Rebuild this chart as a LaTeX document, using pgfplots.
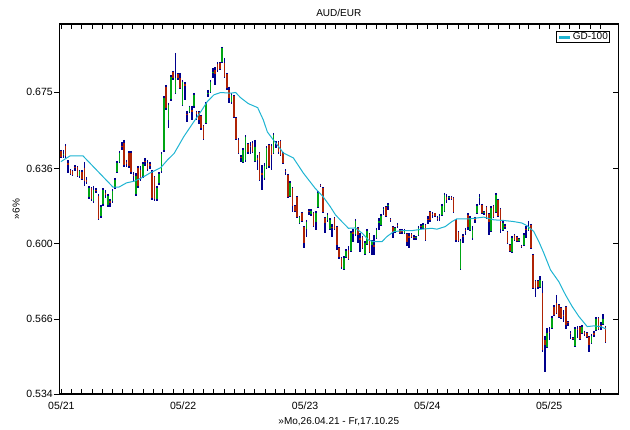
\documentclass[border=0pt]{standalone}
\usepackage{fontspec}
\setmainfont{Liberation Sans}
\usepackage{pgfplots}
\usepackage{pgfplotstable}
\pgfplotsset{compat=1.18}
\definecolor{upg}{RGB}{0,165,20}
\definecolor{dnr}{RGB}{175,35,5}
\definecolor{wick}{RGB}{0,0,140}
\definecolor{maline}{RGB}{30,180,210}

\pgfplotstableread{
x o h l c
4 .6449 .6454 .6414 .6419
11 .6429 .6454 .6414 .6434
18 .6474 .6484 .6414 .6424
25 .6389 .6404 .6339 .6379
32 .6354 .6359 .6330 .6335
39 .6349 .6354 .6325 .6330
46 .6369 .6379 .6349 .6364
53 .6369 .6374 .6320 .6325
60 .6325 .6354 .6315 .6349
67 .6344 .6354 .6305 .6310
74 .6364 .6394 .6276 .6300
81 .6305 .6320 .6286 .6296
88 .6223 .6276 .6213 .6266
95 .6266 .6271 .6203 .6213
102 .6203 .6276 .6194 .6257
109 .6257 .6266 .6242 .6252
116 .6228 .6237 .6113 .6118
123 .6132 .6184 .6122 .6174
130 .6189 .6266 .6179 .6257
137 .6242 .6257 .6218 .6232
144 .6184 .6237 .6174 .6228
151 .6203 .6213 .6174 .6194
158 .6203 .6262 .6194 .6252
165 .6271 .6315 .6262 .6305
172 .6344 .6399 .6339 .6389
179 .6394 .6449 .6389 .6439
186 .6474 .6494 .6454 .6469
193 .6489 .6504 .6369 .6379
200 .6394 .6404 .6369 .6384
207 .6439 .6449 .6364 .6374
214 .6439 .6449 .6335 .6344
221 .6330 .6344 .6300 .6325
228 .6237 .6339 .6228 .6325
235 .6364 .6374 .6266 .6276
242 .6354 .6374 .6300 .6315
249 .6325 .6394 .6315 .6384
256 .6399 .6414 .6374 .6394
263 .6389 .6404 .6349 .6359
270 .6384 .6394 .6359 .6374
277 .6339 .6354 .6208 .6218
284 .6320 .6325 .6203 .6213
291 .6213 .6276 .6203 .6266
298 .6291 .6344 .6281 .6335
305 .6349 .6444 .6339 .6434
312 .6454 .6731 .6444 .6721
319 .6778 .6788 .6658 .6669
326 .6606 .6695 .6565 .6684
333 .6715 .6841 .6705 .6830
340 .6857 .6862 .6814 .6825
347 .6746 .6959 .6741 .6825
354 .6846 .6851 .6814 .6825
361 .6825 .6851 .6767 .6772
368 .6684 .6814 .6679 .6804
375 .6793 .6804 .6709 .6783
382 .6637 .6653 .6596 .6632
389 .6648 .6679 .6643 .6674
396 .6658 .6679 .6606 .6648
403 .6679 .6746 .6669 .6736
410 .6648 .6653 .6606 .6637
417 .6648 .6653 .6586 .6606
424 .6627 .6632 .6555 .6565
431 .6575 .6580 .6504 .6509
438 .6591 .6700 .6586 .6689
445 .6741 .6762 .6726 .6746
452 .6751 .6814 .6746 .6804
459 .6851 .6878 .6825 .6857
466 .6867 .6883 .6788 .6846
473 .6900 .6910 .6857 .6867
480 .6905 .6910 .6867 .6873
487 .6910 .6991 .6905 .6986
494 .6905 .6932 .6825 .6830
501 .6846 .6851 .6762 .6772
508 .6762 .6778 .6695 .6721
515 .6700 .6746 .6689 .6736
522 .6731 .6736 .6617 .6622
529 .6617 .6622 .6504 .6509
536 .6504 .6514 .6434 .6439
543 .6419 .6429 .6394 .6414
550 .6394 .6464 .6389 .6454
557 .6404 .6529 .6394 .6519
564 .6484 .6489 .6434 .6444
571 .6474 .6494 .6434 .6469
578 .6489 .6499 .6439 .6444
585 .6399 .6504 .6394 .6469
592 .6414 .6429 .6354 .6404
599 .6439 .6444 .6300 .6305
606 .6339 .6379 .6257 .6330
613 .6315 .6389 .6305 .6374
620 .6364 .6474 .6359 .6464
627 .6479 .6484 .6364 .6374
634 .6474 .6484 .6354 .6429
641 .6439 .6540 .6434 .6529
648 .6489 .6499 .6464 .6484
655 .6494 .6499 .6434 .6444
662 .6499 .6504 .6424 .6429
669 .6439 .6444 .6384 .6389
676 .6349 .6359 .6330 .6344
683 .6330 .6335 .6218 .6223
690 .6228 .6300 .6223 .6291
697 .6266 .6271 .6151 .6179
704 .6179 .6184 .6151 .6155
711 .6223 .6228 .6122 .6127
718 .6099 .6132 .6094 .6127
725 .6146 .6151 .6104 .6108
732 .6080 .6085 .5981 .6005
739 .6070 .6113 .6033 .6104
746 .6155 .6165 .6137 .6151
753 .6141 .6165 .6132 .6155
760 .6146 .6151 .6080 .6085
767 .6104 .6155 .6065 .6146
774 .6174 .6252 .6170 .6242
781 .6283 .6286 .6271 .6276
788 .6266 .6271 .6146 .6151
795 .6122 .6127 .6051 .6099
802 .6113 .6146 .6104 .6137
809 .6070 .6122 .6065 .6113
816 .6080 .6094 .6033 .6075
823 .6122 .6127 .6065 .6070
830 .6080 .6085 .5972 .5995
837 .5981 .5986 .5931 .5940
844 .5935 .5940 .5885 .5894
851 .5885 .5944 .5880 .5935
858 .5940 .5976 .5935 .5967
865 .5972 .5990 .5925 .5931
872 .5967 .6061 .5963 .6051
879 .6056 .6070 .6009 .6047
886 .6047 .6118 .6037 .6108
893 .6075 .6080 .6005 .6042
900 .6028 .6051 .5963 .6018
907 .6033 .6037 .5976 .5981
914 .5954 .6014 .5949 .6005
921 .6000 .6070 .5995 .6061
928 .6047 .6051 .5958 .5963
935 .5995 .6018 .5949 .6014
942 .5995 .6042 .5949 .5986
949 .6028 .6075 .6023 .6065
956 .6099 .6122 .6065 .6108
963 .6089 .6141 .6085 .6132
970 .6160 .6174 .6137 .6165
977 .6174 .6179 .6127 .6132
984 .6179 .6194 .6160 .6184
991 .6118 .6122 .6104 .6113
998 .6080 .6085 .6028 .6056
1005 .6056 .6080 .6051 .6075
1012 .6089 .6099 .6075 .6085
1019 .6065 .6070 .6047 .6051
1026 .6061 .6070 .6047 .6056
1033 .6051 .6070 .6047 .6065
1040 .6047 .6051 .5990 .6009
1047 .6037 .6051 .5981 .6028
1054 .6047 .6051 .6028 .6033
1061 .6033 .6042 .6018 .6028
1068 .6028 .6037 .6018 .6033
1075 .6042 .6085 .6037 .6075
1082 .6085 .6094 .6070 .6080
1089 .6075 .6099 .6070 .6089
1096 .6089 .6094 .6014 .6018
1103 .6118 .6132 .6094 .6113
1110 .6151 .6155 .6104 .6113
1117 .6141 .6151 .6122 .6137
1124 .6144 .6146 .6127 .6132
1131 .6122 .6132 .6108 .6118
1138 .6127 .6141 .6108 .6132
1145 .6137 .6189 .6132 .6179
1152 .6155 .6242 .6151 .6232
1159 .6223 .6237 .6194 .6208
1166 .6218 .6228 .6208 .6223
1173 .6223 .6228 .6208 .6213
1180 .6218 .6223 .6146 .6151
1187 .6113 .6118 .6009 .6018
1194 .6056 .6061 .6009 .6014
1201 .5885 .6023 .5880 .6014
1208 .6037 .6047 .6005 .6033
1215 .6065 .6075 .6042 .6061
1222 .6137 .6146 .6065 .6080
1229 .6065 .6132 .6061 .6122
1236 .6028 .6085 .6018 .6065
1243 .6118 .6127 .6099 .6113
1250 .6146 .6189 .6141 .6179
1257 .6218 .6237 .6184 .6223
1264 .6184 .6189 .6141 .6146
1271 .6146 .6155 .6137 .6151
1278 .6174 .6179 .6118 .6122
1285 .6141 .6146 .6042 .6104
1292 .6061 .6179 .6056 .6170
1299 .6179 .6184 .6122 .6127
1306 .6151 .6242 .6146 .6232
1313 .6208 .6213 .6127 .6132
1320 .6165 .6170 .6051 .6070
1327 .6065 .6108 .6061 .6099
1334 .6085 .6094 .6070 .6080
1341 .6056 .6061 .6000 .6005
1348 .5995 .6000 .5963 .5967
1355 .5963 .6037 .5958 .6028
1362 .6042 .6047 .6014 .6018
1369 .6033 .6037 .6009 .6014
1376 .6014 .6028 .6009 .6023
1383 .5990 .5995 .5981 .5986
1390 .5995 .6051 .5990 .6042
1397 .6070 .6085 .6028 .6065
1404 .6065 .6108 .6061 .6080
1411 .6089 .6094 .5976 .5981
1418 .5949 .5954 .5793 .5797
1425 .5830 .5834 .5758 .5797
1432 .5830 .5834 .5793 .5802
1439 .5802 .5852 .5797 .5834
1446 .5776 .5830 .5517 .5526
1453 .5569 .5586 .5432 .5547
1460 .5539 .5621 .5535 .5599
1467 .5603 .5625 .5569 .5599
1474 .5621 .5673 .5616 .5665
1481 .5713 .5722 .5673 .5678
1488 .5731 .5767 .5682 .5687
1495 .5722 .5727 .5665 .5669
1502 .5709 .5713 .5660 .5665
1509 .5678 .5700 .5647 .5673
1516 .5713 .5718 .5616 .5634
1523 .5647 .5651 .5629 .5643
1530 .5599 .5608 .5573 .5595
1537 .5577 .5582 .5569 .5573
1544 .5543 .5625 .5539 .5616
1551 .5616 .5629 .5577 .5612
1558 .5625 .5629 .5569 .5573
1565 .5599 .5634 .5595 .5625
1572 .5603 .5608 .5586 .5595
1579 .5599 .5603 .5577 .5582
1586 .5582 .5586 .5517 .5547
1593 .5556 .5595 .5552 .5586
1600 .5599 .5608 .5582 .5590
1607 .5612 .5669 .5608 .5660
1614 .5665 .5669 .5612 .5616
1621 .5634 .5647 .5612 .5629
1628 .5638 .5682 .5634 .5660
1635 .5625 .5629 .5556 .5560
}\ohlc

\pgfplotstableread{
x y
4 .6396
31 .6424
70 .6424
160 .6270
178 .6271
200 .6291
225 .6300
245 .6315
270 .6339
303 .6366
323 .6404
343 .6437
372 .6521
402 .6597
423 .6649
442 .6700
462 .6736
482 .6748
512 .6745
527 .6748
542 .6721
565 .6690
593 .6669
610 .6606
622 .6545
640 .6504
670 .6439
700 .6414
730 .6339
765 .6265
789 .6224
810 .6177
826 .6137
845 .6105
865 .6073
885 .6075
906 .6050
925 .6018
940 .6010
965 .6010
980 .6034
1000 .6057
1025 .6062
1055 .6062
1085 .6069
1114 .6073
1130 .6069
1155 .6081
1175 .6105
1190 .6118
1230 .6118
1270 .6126
1300 .6113
1330 .6110
1359 .6105
1384 .6098
1400 .6085
1420 .6058
1435 .6011
1450 .5957
1470 .5880
1495 .5826
1515 .5767
1535 .5715
1555 .5671
1580 .5627
1599 .5630
1620 .5627
1636 .5617
}\ma

\begin{document}
\fontsize{10bp}{12bp}\selectfont
\begin{tikzpicture}
\begin{axis}[scale only axis, width=559bp, height=370bp,
  xmin=-1, xmax=1673, ymode=log, ymin=0.534, ymax=0.7117,
  axis line style={line width=1.2bp},
  major tick length=5.5bp, minor tick length=5.5bp,
  tick style={black, line width=0.9bp},
  yminorticks=false,
  tick label style={font=\fontsize{10.5bp}{12bp}\selectfont},
  xtick={5,370,735,1101,1466},
  xticklabels={05/21,05/22,05/23,05/24,05/25},
  minor xtick={36,66,97,128,158,189,219,250,281,309,340,401,431,462,493,523,554,584,615,646,674,705,766,796,827,858,888,919,949,980,1011,1040,1071,1132,1162,1193,1224,1254,1285,1315,1346,1377,1405,1436,1497,1527,1558,1589,1619},
  xtick pos=both, xtick align=inside,
  xticklabel style={yshift=-4.5bp},
  ytick={0.534,0.566,0.600,0.636,0.675},
  yticklabels={0.534,0.566,0.600,0.636,0.675},
  ytick pos=left, ytick align=outside,
  yticklabel style={xshift=2.5bp},
  title={AUD/EUR},
  title style={at={(rel axis cs:0.5,1)}, yshift=5.5bp, anchor=center, font=\fontsize{10bp}{12bp}\selectfont},
  xlabel={»Mo,26.04.21 - Fr,17.10.25},
  xlabel style={at={(rel axis cs:0.5,0)}, yshift=-28bp, anchor=center, font=\fontsize{10bp}{12bp}\selectfont},
  ylabel={»6\%},
  ylabel style={at={([xshift=-43bp]rel axis cs:0,0.5)}, anchor=center, font=\fontsize{10bp}{12bp}\selectfont},
  legend style={at={(1,1)}, anchor=north east, xshift=-8bp, yshift=-7bp,
    draw=black, line width=0.9bp, inner xsep=1bp, inner ysep=0.5bp,
    font=\fontsize{10bp}{12bp}\selectfont,
    nodes={inner sep=1bp}},
  legend image code/.code={\draw[line width=3bp, maline] (0bp,0bp) -- (11bp,0bp);},
]
\coordinate (bl) at (rel axis cs:0,0);
\coordinate (tr) at (rel axis cs:1,1);
% wicks (high-low)
\addplot[forget plot, draw=none, mark=none,
  error bars/.cd, y dir=minus, y explicit, error mark=none,
  error bar style={draw=wick, line width=1.6bp}]
  table[x=x, y=h, y error expr=\thisrow{h}-\thisrow{l}] {\ohlc};
% rising bodies
\addplot[forget plot, draw=none, mark=none,
  restrict expr to domain={\thisrow{c}-\thisrow{o}}{0:1},
  error bars/.cd, y dir=minus, y explicit, error mark=none,
  error bar style={draw=upg, line width=1.6bp}]
  table[x=x, y=c, y error expr=\thisrow{c}-\thisrow{o}] {\ohlc};
% falling bodies
\addplot[forget plot, draw=none, mark=none,
  restrict expr to domain={\thisrow{o}-\thisrow{c}}{0.00001:1},
  error bars/.cd, y dir=minus, y explicit, error mark=none,
  error bar style={draw=dnr, line width=1.6bp}]
  table[x=x, y=o, y error expr=\thisrow{o}-\thisrow{c}] {\ohlc};
% moving average
\addplot[maline, line width=1bp, mark=none] table[x=x, y=y] {\ma};
\addlegendentry{GD-100}
\end{axis}
\begin{axis}[scale only axis, width=559bp, height=370bp,
  xmin=-1, xmax=1673, ymode=log, ymin=0.534, ymax=0.7117,
  axis line style={line width=1.2bp},
  major tick length=5.5bp, tick style={black, line width=0.9bp},
  yminorticks=false, xtick=\empty,
  ytick={0.534,0.566,0.600,0.636,0.675}, yticklabels={},
  ytick pos=right, ytick align=inside]
\end{axis}
\pgfresetboundingbox
\path[use as bounding box] ([shift={(-59.3bp,-36bp)}]bl) rectangle ([shift={(11.7bp,24bp)}]tr);
\end{tikzpicture}
\end{document}
